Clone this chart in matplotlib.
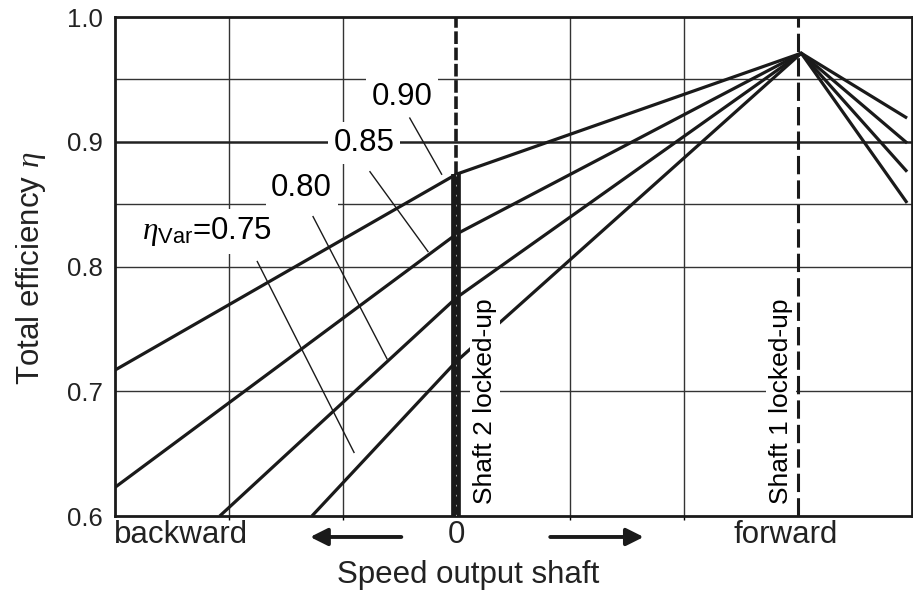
import matplotlib
matplotlib.use("Agg")
import matplotlib.pyplot as plt

plt.rcParams['font.family'] = ['Liberation Sans', 'DejaVu Sans']
plt.rcParams['mathtext.fontset'] = 'custom'
plt.rcParams['mathtext.rm'] = 'Liberation Sans'
plt.rcParams['mathtext.it'] = 'Liberation Serif:italic'

# efficiency curves, one per variator efficiency
eta_var = ["0.90", "0.85", "0.80", "0.75"]
curve_x = [
    [-3.0, 0.0, 3.03, 3.96],
    [-3.0, 0.0, 3.03, 3.96],
    [-2.08, 0.0, 3.03, 3.96],
    [-1.27, 0.0, 3.03, 3.96],
]
curve_y = [
    [0.717, 0.874, 0.971, 0.919],
    [0.623, 0.826, 0.971, 0.899],
    [0.600, 0.775, 0.971, 0.876],
    [0.600, 0.724, 0.971, 0.851],
]

# curve labels and their leader lines
label_text = ["0.90", "0.85", "0.80", r"$\eta_{\mathrm{Var}}$=0.75"]
label_pos = [(-0.48, 0.936), (-0.81, 0.899), (-1.36, 0.863), (-2.19, 0.828)]
leader_from = [(-0.41, 0.919), (-0.76, 0.876), (-1.26, 0.840), (-1.75, 0.804)]
leader_to = [(-0.13, 0.874), (-0.25, 0.812), (-0.61, 0.726), (-0.90, 0.651)]

x_grid = [-2, -1, 1, 2]
y_grid = [0.7, 0.8, 0.85, 0.95]
y_ticks = [0.6, 0.7, 0.8, 0.9, 1.0]
x_ticks = [-2.42, 0, 2.89]
x_ticklabels = ["backward", "0", "forward"]

fig = plt.figure(figsize=(9.13, 5.93), dpi=100)
ax = fig.add_axes([0.126, 0.1298, 0.8725, 0.8415])
ax.set_xlim(-3, 4)
ax.set_ylim(0.6, 1.0)

for x in x_grid:
    ax.axvline(x, color='#333333', lw=1.0, zorder=1)
for y in y_grid:
    ax.axhline(y, color='#333333', lw=1.0, zorder=1)
ax.axhline(0.9, color='#222222', lw=1.8, zorder=1)

for xs, ys in zip(curve_x, curve_y):
    ax.plot(xs, ys, color='#1a1a1a', lw=2.3, zorder=3, solid_capstyle='butt')

# shaft 2 locked-up (speed 0)
top = curve_y[0][1]
ax.plot([0, 0], [0.6, top], color='#1a1a1a', lw=7, zorder=4, solid_capstyle='butt')
ax.plot([0, 0], [0.6, top], color='#bbbbbb', lw=0.6, ls=(0, (2, 10)), zorder=4)
ax.plot([0, 0], [top, 1.0], color='#1a1a1a', lw=2.6, ls=(0, (3.5, 1.0)), zorder=4)

# shaft 1 locked-up
ax.axvline(3, color='#1a1a1a', lw=2.2, ls=(0, (6, 2)), zorder=2)

for t, p, a, b in zip(label_text, label_pos, leader_from, leader_to):
    ax.plot([a[0], b[0]], [a[1], b[1]], color='#1a1a1a', lw=1.0, zorder=5)
    ax.text(p[0], p[1], t, fontsize=22.5, ha='center', va='center', zorder=6,
            bbox=dict(facecolor='white', edgecolor='none', pad=4))

ax.text(0.25, 0.692, "Shaft 2 locked-up", rotation=90, fontsize=19, ha='center',
        va='center', zorder=6, bbox=dict(facecolor='white', edgecolor='none', pad=2))
ax.text(2.85, 0.692, "Shaft 1 locked-up", rotation=90, fontsize=19, ha='center',
        va='center', zorder=6, bbox=dict(facecolor='white', edgecolor='none', pad=2))

ax.set_yticks(y_ticks)
ax.set_yticklabels(["%.1f" % v for v in y_ticks])
ax.set_xticks(x_ticks)
ax.set_xticklabels(x_ticklabels)
ax.tick_params(axis='y', length=0, labelsize=18.5, pad=9, colors='#222222')
ax.tick_params(axis='x', length=0, labelsize=22.5, pad=3, colors='#222222')
ax.set_xticks(x_grid, minor=True)
ax.tick_params(axis='x', which='minor', length=3, width=1, direction='out')

for s in ax.spines.values():
    s.set_linewidth(2)
    s.set_color('#1a1a1a')

# direction arrows under the axis
ax.annotate('', xy=(-1.31, -0.042), xytext=(-0.46, -0.042),
            xycoords=('data', 'axes fraction'), textcoords=('data', 'axes fraction'),
            annotation_clip=False,
            arrowprops=dict(arrowstyle='-|>', lw=2.8, color='#1a1a1a', mutation_scale=26))
ax.annotate('', xy=(1.67, -0.042), xytext=(0.80, -0.042),
            xycoords=('data', 'axes fraction'), textcoords=('data', 'axes fraction'),
            annotation_clip=False,
            arrowprops=dict(arrowstyle='-|>', lw=2.8, color='#1a1a1a', mutation_scale=26))

fig.text(0.5126, 0.031, "Speed output shaft", fontsize=22.5, ha='center', va='center',
         color='#222222')
fig.text(0.034, 0.548, r"Total efficiency $\eta$", fontsize=22.5, rotation=90,
         ha='center', va='center', color='#222222')

fig.savefig('out.png', dpi=100)
